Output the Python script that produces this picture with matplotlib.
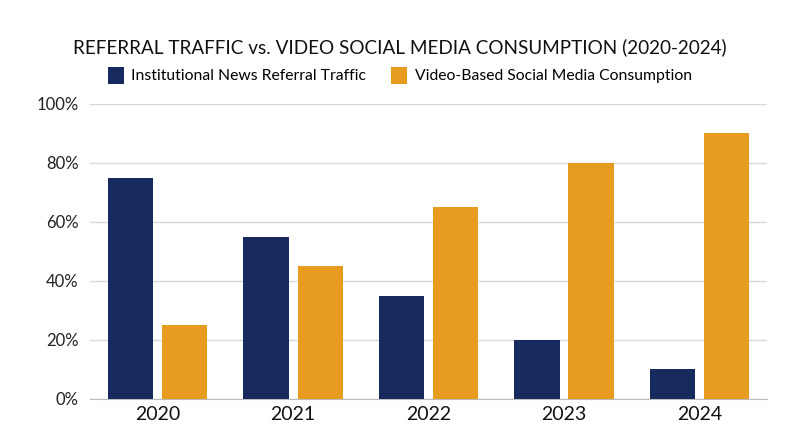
import matplotlib
matplotlib.use("Agg")
import matplotlib.pyplot as plt
import numpy as np

years = ["2020", "2021", "2022", "2023", "2024"]
referral = [75, 55, 35, 20, 10]
video = [25, 45, 65, 80, 90]
series_names = ["Institutional News Referral Traffic", "Video-Based Social Media Consumption"]
yticks = [0, 20, 40, 60, 80, 100]

plt.rcParams['font.family'] = ['Lato', 'DejaVu Sans']

fig = plt.figure(figsize=(8, 4.47), dpi=100)
ax = fig.add_axes([0.1125, 0.1074, 0.8463, 0.66])

x = np.arange(len(years))
w = 0.335
ax.bar(x - 0.2, referral, w, color="#172a5e", label=series_names[0], zorder=3)
ax.bar(x + 0.2, video, w, color="#e89c1f", label=series_names[1], zorder=3)

ax.set_xlim(-0.5, 4.5)
ax.set_ylim(0, 100)
ax.set_yticks(yticks)
ax.set_yticklabels([f"{v}%" for v in yticks], fontsize=12, color="#222222")
ax.set_xticks(x)
ax.set_xticklabels(years, fontsize=14, color="#111111")
ax.grid(axis="y", color="#d9d9d9", linewidth=1, zorder=0)
for s in ["top", "right", "left"]:
    ax.spines[s].set_visible(False)
ax.spines["bottom"].set_color("#bbbbbb")
ax.tick_params(axis="both", length=0)
ax.tick_params(axis="y", pad=8)
ax.tick_params(axis="x", pad=5)

fig.text(0.5, 0.895, "REFERRAL TRAFFIC vs. VIDEO SOCIAL MEDIA CONSUMPTION (2020-2024)",
         ha="center", va="center", fontsize=13.6, color="#111111")
fig.legend(loc="center", bbox_to_anchor=(0.5, 0.832), ncol=2, frameon=False,
           fontsize=11.3, handlelength=1.0, handleheight=1.3, columnspacing=1.6, handletextpad=0.5)

fig.savefig("out.png", dpi=100)
